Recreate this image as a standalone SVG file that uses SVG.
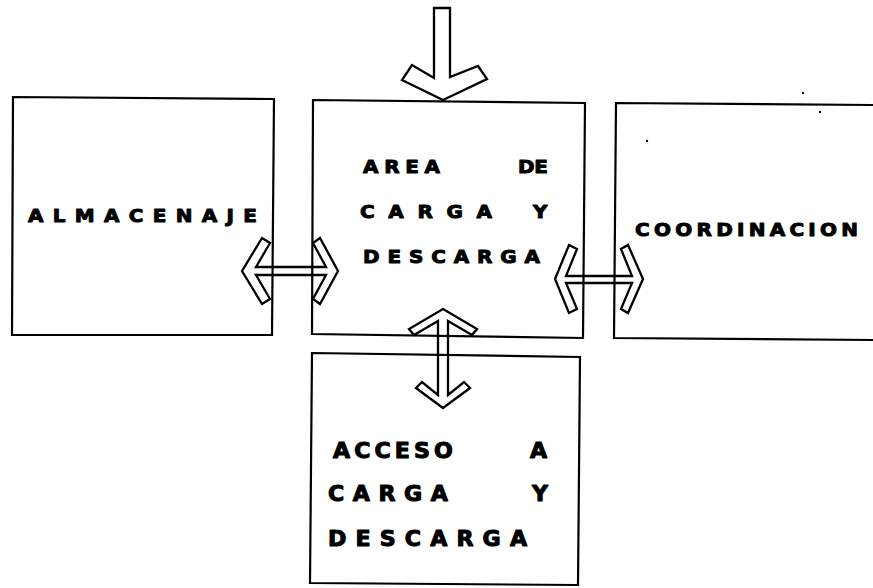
<svg xmlns="http://www.w3.org/2000/svg" width="873" height="588" viewBox="0 0 873 588">
<style>
.box{fill:none;stroke:#000;stroke-width:2.2;stroke-linejoin:miter}
.arr{fill:none;stroke:#000;stroke-width:2.3;stroke-linejoin:miter}
.t{font-family:"DejaVu Sans","Liberation Sans",Arial,sans-serif;font-weight:bold;fill:#000;stroke:#000;stroke-width:1;stroke-linejoin:round}
.s18{font-size:18.5px}
.s20{font-size:20.5px}
.dot{fill:#000}
</style>
<rect width="873" height="588" fill="#fff"/>
<g id="almacenaje">
<polygon class="box" points="13,97 274,99 272,335 12,335"/>
<text class="t s18" transform="scale(1.08,1)" x="25.9" y="222" textLength="212" lengthAdjust="spacing">ALMACENAJE</text>
</g>
<g id="area-carga-descarga">
<polygon class="box" points="313,100 585,103 583,338 312,334"/>
<g transform="scale(1.08,1)">
<text class="t s18" x="336.1" y="173" textLength="71.3" lengthAdjust="spacing">AREA</text>
<text class="t s18" x="479.6" y="173" textLength="27.8" lengthAdjust="spacing">DE</text>
<text class="t s18" x="333.3" y="218" textLength="122.2" lengthAdjust="spacing">CARGA</text>
<text class="t s18" x="493.5" y="218">Y</text>
<text class="t s18" x="336.1" y="263" textLength="163.9" lengthAdjust="spacing">DESCARGA</text>
</g>
</g>
<g id="coordinacion">
<path class="box" d="M873,105 L616,103 L614,338 L873,340"/>
<text class="t s18" transform="scale(1.08,1)" x="588" y="236" textLength="206.5" lengthAdjust="spacing">COORDINACION</text>
<circle class="dot" cx="803" cy="93" r="1.2"/>
<circle class="dot" cx="820" cy="112" r="1.2"/>
<circle class="dot" cx="647" cy="141" r="1.2"/>
</g>
<g id="acceso-carga-descarga">
<polygon class="box" points="312,353 580,357 578,585 310,583"/>
<g transform="scale(1.08,1)">
<text class="t s20" x="308.3" y="458" textLength="111.1" lengthAdjust="spacing">ACCESO</text>
<text class="t s20" x="490.7" y="458">A</text>
<text class="t s20" x="303.7" y="501" textLength="111.1" lengthAdjust="spacing">CARGA</text>
<text class="t s20" x="492.6" y="501">Y</text>
<text class="t s20" x="303.7" y="546" textLength="184.3" lengthAdjust="spacing">DESCARGA</text>
</g>
</g>
<g id="connectors">
<polygon class="arr" points="434,8 450,8 450,77 478,66 487,79 443,100 402,80 412,65 434,78"/>
<polygon class="arr" points="242,271 262,238 270,243 256,267 326,267 313,243 320,238 338,271 320,304 313,299 326,275 256,275 270,299 262,304"/>
<polygon class="arr" points="555,279 569,245 577,249 566,276 632,276 621,249 628,245 643,279 628,313 621,309 632,283 566,283 577,309 569,313"/>
<polygon class="arr" points="443,309 477,329 472,335 448,321 448,395 464,382 470,388 443,408 416,388 422,382 438,395 438,321 414,335 409,329"/>
</g>
</svg>
